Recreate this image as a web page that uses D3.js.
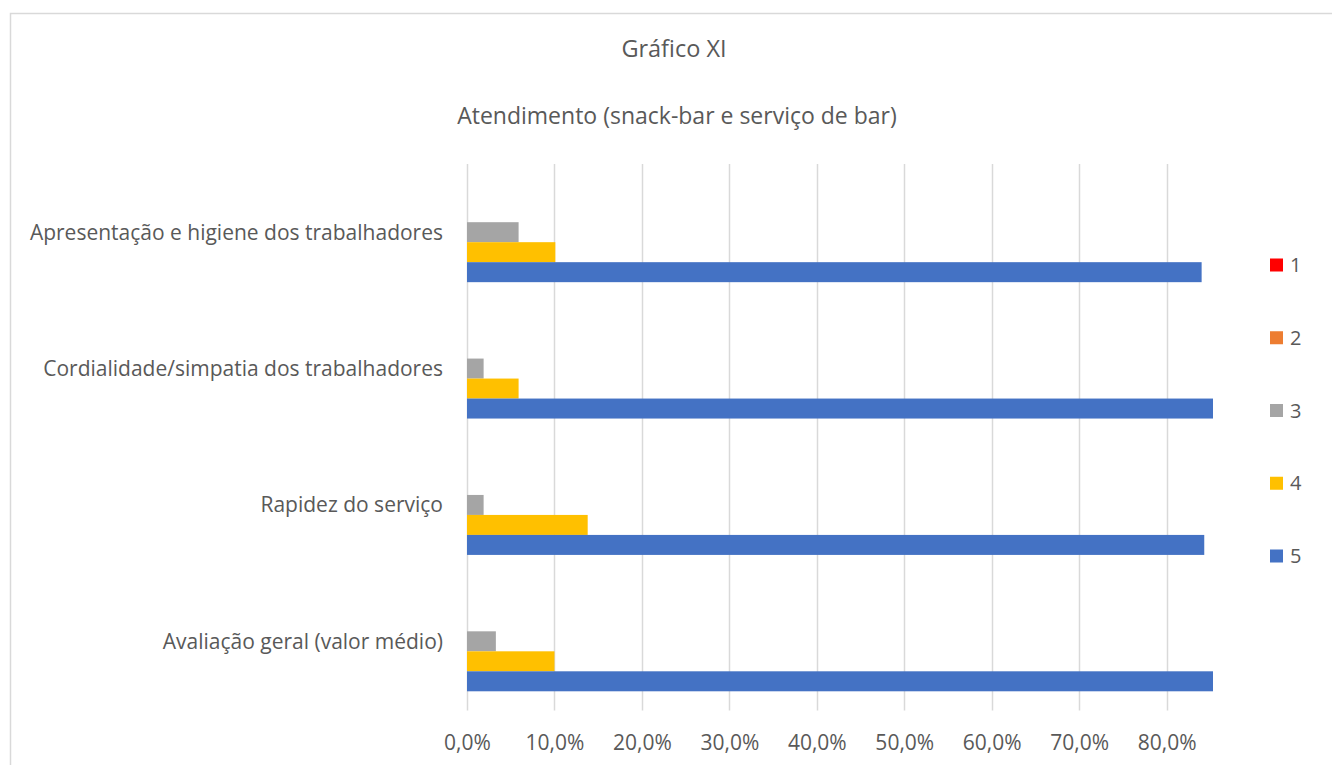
<!DOCTYPE html>
<html lang="pt">
<head>
<meta charset="utf-8">
<title>Gráfico XI</title>
<script src="https://cdn.jsdelivr.net/npm/d3@7"></script>
<style>
  html, body { margin: 0; padding: 0; background: #ffffff; }
  svg { display: block; font-family: "Open Sans", "Noto Sans", sans-serif; }
</style>
</head>
<body>
<svg id="chart" width="1332" height="765"></svg>
<script>
// Categories, top to bottom
const categories = [
  "Apresentação e higiene dos trabalhadores",
  "Cordialidade/simpatia dos trabalhadores",
  "Rapidez do serviço",
  "Avaliação geral (valor médio)"
];

// Rating series (1 = lowest, 5 = highest)
const seriesNames = ["1", "2", "3", "4", "5"];
const seriesColors = ["#FF0000", "#ED7D31", "#A5A5A5", "#FFC000", "#4472C4"];

// Share of answers per rating, one array per series, in category order
const rating1 = [0, 0, 0, 0];
const rating2 = [0, 0, 0, 0];
const rating3 = [0.059, 0.019, 0.019, 0.033];
const rating4 = [0.101, 0.059, 0.138, 0.100];
const rating5 = [0.840, 0.922, 0.843, 0.868];
const seriesValues = [rating1, rating2, rating3, rating4, rating5];

// Value axis
const axisMax = 0.853;
const tickValues = [0, 0.1, 0.2, 0.3, 0.4, 0.5, 0.6, 0.7, 0.8];

const svg = d3.select("#chart");
const textColor = "#595959";
const gridColor = "#d9d9d9";

// Chart area border
svg.append("rect")
  .attr("x", 10.5).attr("y", 13.5)
  .attr("width", 1340).attr("height", 800)
  .attr("fill", "none")
  .attr("stroke", "#d9d9d9")
  .attr("stroke-width", 1.5);

// Titles
svg.append("text")
  .attr("x", 674).attr("y", 57)
  .attr("text-anchor", "middle")
  .attr("fill", textColor)
  .style("font-size", "23.5px")
  .text("Gráfico XI");

svg.append("text")
  .attr("x", 677).attr("y", 124)
  .attr("text-anchor", "middle")
  .attr("fill", textColor)
  .style("font-size", "23px")
  .text("Atendimento (snack-bar e serviço de bar)");

// Plot area
const plot = { left: 467, right: 1213, top: 164, bottom: 709.5 };

const x = d3.scaleLinear().domain([0, axisMax]).range([plot.left, plot.right]);
const y = d3.scaleBand().domain(categories)
  .range([plot.top, plot.bottom])
  .paddingInner(0.267).paddingOuter(0.1335);
const ySeries = d3.scaleBand().domain(seriesNames).range([0, y.bandwidth()]);

// Vertical gridlines
svg.append("g")
  .selectAll("line")
  .data(tickValues)
  .join("line")
  .attr("x1", d => Math.round(x(d)) + 0.5)
  .attr("x2", d => Math.round(x(d)) + 0.5)
  .attr("y1", plot.top)
  .attr("y2", plot.bottom + 1)
  .attr("stroke", gridColor)
  .attr("stroke-width", 1.5);

// Value axis labels
const fmt = d => (d * 100).toFixed(1).replace(".", ",") + "%";
const xAxis = d3.axisBottom(x)
  .tickValues(tickValues)
  .tickFormat(fmt)
  .tickSize(0)
  .tickPadding(0);
const xAxisG = svg.append("g")
  .attr("transform", `translate(0, ${plot.bottom})`)
  .call(xAxis);
xAxisG.select(".domain").remove();
xAxisG.selectAll("text")
  .attr("y", 40)
  .attr("dy", 0)
  .attr("fill", textColor)
  .style("font-family", "'Open Sans', 'Noto Sans', sans-serif")
  .style("font-size", "21px");

// Category axis labels
const yAxis = d3.axisLeft(y).tickSize(0).tickPadding(0);
const yAxisG = svg.append("g")
  .attr("transform", `translate(${plot.left - 24}, 0)`)
  .call(yAxis);
yAxisG.select(".domain").remove();
yAxisG.selectAll("text")
  .attr("x", 0)
  .attr("dy", "0.35em")
  .attr("fill", textColor)
  .style("font-family", "'Open Sans', 'Noto Sans', sans-serif")
  .style("font-size", "21px");

// Bars, clipped to the plot area
svg.append("clipPath").attr("id", "plot-clip")
  .append("rect")
  .attr("x", plot.left).attr("y", plot.top)
  .attr("width", plot.right - plot.left)
  .attr("height", plot.bottom - plot.top);

const barRows = [];
seriesNames.forEach((s, si) => {
  categories.forEach((c, ci) => {
    barRows.push({ series: s, color: seriesColors[si], category: c, value: seriesValues[si][ci] });
  });
});

svg.append("g")
  .attr("clip-path", "url(#plot-clip)")
  .selectAll("rect")
  .data(barRows.filter(d => d.value > 0))
  .join("rect")
  .attr("x", x(0))
  .attr("y", d => y(d.category) + ySeries(d.series))
  .attr("width", d => x(d.value) - x(0))
  .attr("height", ySeries.bandwidth())
  .attr("fill", d => d.color);

// Legend
const legendY = d3.scalePoint().domain(seriesNames).range([265, 556]);
const legend = svg.append("g")
  .selectAll("g")
  .data(seriesNames)
  .join("g")
  .attr("transform", d => `translate(1270, ${legendY(d)})`);
legend.append("rect")
  .attr("x", 0).attr("y", -6.5)
  .attr("width", 13).attr("height", 13)
  .attr("fill", (d, i) => seriesColors[i]);
legend.append("text")
  .attr("x", 20).attr("y", 0)
  .attr("dy", "0.35em")
  .attr("fill", textColor)
  .style("font-size", "20px")
  .text(d => d);
</script>
</body>
</html>
